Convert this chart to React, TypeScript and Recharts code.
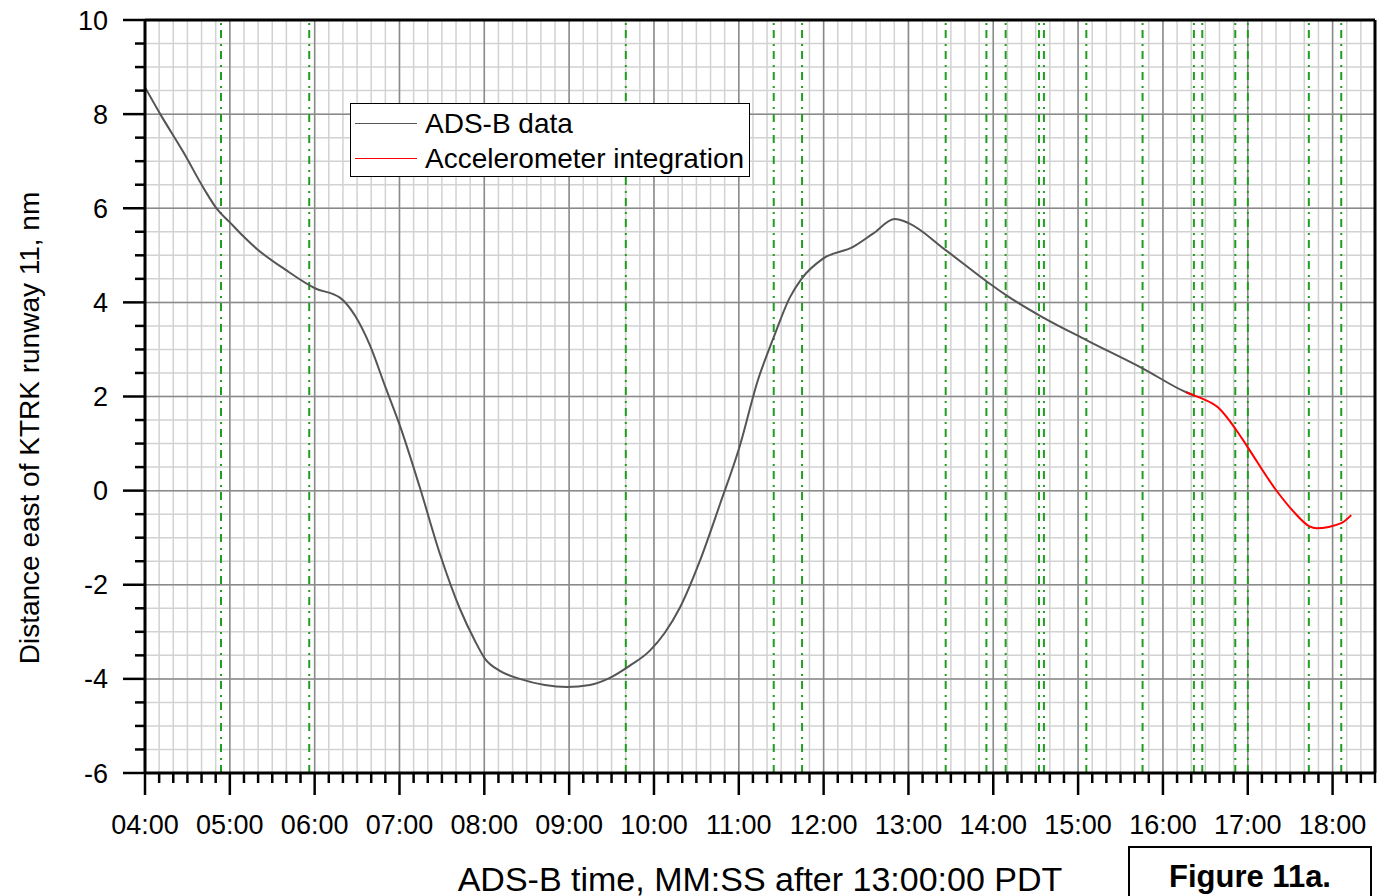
import React from "react"
import {
  ComposedChart,
  Line,
  XAxis,
  YAxis,
  CartesianGrid,
  ReferenceLine,
  Legend,
} from "recharts"

// time in minutes after 13:00:00, distance in nm
const adsbTime = [
  4.0, 4.18, 4.45, 4.7, 4.85, 5.0, 5.15, 5.316, 5.65, 6.003, 6.298, 6.475,
  6.651, 6.828, 7.005, 7.241, 7.476, 7.712, 7.889, 8.007, 8.183, 8.419, 8.714,
  8.973, 9.244, 9.48, 9.716, 9.952, 10.128, 10.305, 10.54, 10.776, 11.012,
  11.224, 11.412, 11.601, 11.739, 11.993, 12.347, 12.582, 12.838, 12.995,
  13.439, 13.919, 14.155, 14.547, 15.097, 15.76, 16.275, 16.373,
]
const adsbDist = [
  8.57, 8.0, 7.2, 6.4, 5.98, 5.7, 5.42, 5.14, 4.7, 4.3, 4.1, 3.72, 3.09, 2.23,
  1.38, 0.06, -1.34, -2.51, -3.19, -3.57, -3.83, -4.0, -4.13, -4.17, -4.13,
  -3.98, -3.72, -3.4, -3.02, -2.49, -1.5, -0.3, 0.95, 2.34, 3.26, 4.1, 4.5,
  4.93, 5.18, 5.46, 5.77, 5.69, 5.11, 4.45, 4.15, 3.72, 3.2, 2.6, 2.09, 2.02,
]

const accelTime = [
  16.275, 16.373, 16.471, 16.648, 16.856, 17.0, 17.355, 17.532, 17.728, 17.807,
  18.102, 18.22,
]
const accelDist = [
  2.09, 2.02, 1.95, 1.77, 1.31, 0.92, -0.04, -0.43, -0.76, -0.8, -0.69, -0.52,
]

// event markers (green dash-dot verticals)
const eventTimes = [
  4.896, 5.936, 9.668, 11.412, 11.746, 13.439, 13.919, 14.146, 14.539, 14.597,
  15.097, 15.76, 16.365, 16.464, 16.853, 17.001, 17.72, 18.102,
]

const minuteTicks = [5, 6, 7, 8, 9, 10, 11, 12, 13, 14, 15, 16, 17, 18]
const xTicks: number[] = []
for (let i = 24; i <= 111; i++) xTicks.push(i / 6)
const yTicks: number[] = []
for (let i = -12; i <= 20; i++) yTicks.push(i / 2)
const yMajor = [-4, -2, 0, 2, 4, 6, 8]

const adsbData = adsbTime.map((t, i) => ({ t, d: adsbDist[i] }))
const accelData = accelTime.map((t, i) => ({ t, d: accelDist[i] }))

const FONT = '"Liberation Sans", Arial, sans-serif'

const fmt = (v: number) => {
  const m = Math.round(v)
  return (m < 10 ? "0" : "") + m + ":00"
}

const XTick = (props: any) => {
  const { x, y, payload } = props
  const v = payload.value
  const major = Math.abs(v - Math.round(v)) < 1e-6
  return (
    <g>
      <line x1={x} x2={x} y1={y} y2={y + (major ? 22 : 10)} stroke="#000" strokeWidth={2.5} />
      {major && (
        <text x={x} y={y + 61} textAnchor="middle" fontSize={27} fontFamily={FONT} fill="#000">
          {fmt(v)}
        </text>
      )}
    </g>
  )
}

const YTick = (props: any) => {
  const { x, y, payload } = props
  const v = payload.value
  const major = Math.abs(v / 2 - Math.round(v / 2)) < 1e-6
  return (
    <g>
      <line x1={x - (major ? 22 : 10)} x2={x} y1={y} y2={y} stroke="#000" strokeWidth={2.5} />
      {major && (
        <text x={x - 37} y={y + 9.5} textAnchor="end" fontSize={27} fontFamily={FONT} fill="#000">
          {v}
        </text>
      )}
    </g>
  )
}

const LegendBox = (props: any) => {
  const items = props.payload || []
  return (
    <div
      style={{
        width: 400,
        height: 74,
        border: "1.5px solid #000",
        background: "#fff",
        boxSizing: "border-box",
        fontFamily: FONT,
        fontSize: 28,
        paddingTop: 2,
      }}
    >
      {items.map((it: any) => (
        <div key={it.value} style={{ display: "flex", alignItems: "center", height: 35 }}>
          <div style={{ width: 62, height: 0, borderTop: `1.5px solid ${it.color}`, marginLeft: 4, marginRight: 8 }} />
          <span>{it.value}</span>
        </div>
      ))}
    </div>
  )
}

export default function App() {
  return (
    <div style={{ position: "absolute", left: 0, top: 0, width: 1379, height: 896, background: "#fff" }}>
      <ComposedChart width={1379} height={896} margin={{ top: 20, right: 4, bottom: 0, left: 0 }}>
        <CartesianGrid stroke="#d2d2d2" strokeWidth={1.5} />
        <XAxis
          dataKey="t"
          type="number"
          domain={[4, 18.5]}
          allowDataOverflow
          ticks={xTicks}
          interval={0}
          tickSize={0}
          tickMargin={0}
          tick={<XTick />}
          axisLine={{ stroke: "#000", strokeWidth: 3 }}
          tickLine={false}
          height={123}
        />
        <YAxis
          type="number"
          domain={[-6, 10]}
          allowDataOverflow
          ticks={yTicks}
          interval={0}
          tickSize={0}
          tickMargin={0}
          tick={<YTick />}
          axisLine={{ stroke: "#000", strokeWidth: 3 }}
          tickLine={false}
          width={145}
        />
        {minuteTicks.map((m) => (
          <ReferenceLine key={"vx" + m} x={m} stroke="#8a8a8a" strokeWidth={1.5} />
        ))}
        {yMajor.map((v) => (
          <ReferenceLine key={"hy" + v} y={v} stroke="#8a8a8a" strokeWidth={1.5} />
        ))}
        {eventTimes.map((t) => (
          <ReferenceLine key={"ev" + t} x={t} stroke="#1f9e1f" strokeWidth={2} strokeDasharray="8 5 2 6" />
        ))}
        <ReferenceLine y={10} stroke="#000" strokeWidth={3} />
        <ReferenceLine x={18.5} stroke="#000" strokeWidth={3} />
        <Line
          data={adsbData}
          dataKey="d"
          name="ADS-B data"
          type="monotone"
          stroke="#555"
          strokeWidth={2}
          dot={false}
          isAnimationActive={false}
        />
        <Line
          data={accelData}
          dataKey="d"
          name="Accelerometer integration"
          type="monotone"
          stroke="#ff0000"
          strokeWidth={2}
          dot={false}
          isAnimationActive={false}
        />
        <Legend
          layout="vertical"
          align="center"
          verticalAlign="middle"
          content={<LegendBox />}
          wrapperStyle={{ position: "absolute", left: 350, top: 103, width: 400 }}
        />
      </ComposedChart>
      <div
        style={{
          position: "absolute",
          left: 30 - 300,
          top: 428 - 16,
          width: 600,
          height: 32,
          lineHeight: "32px",
          textAlign: "center",
          transform: "rotate(-90deg)",
          fontFamily: FONT,
          fontSize: 28,
          whiteSpace: "nowrap",
        }}
      >
        Distance east of KTRK runway 11, nm
      </div>
      <div
        style={{
          position: "absolute",
          left: 360,
          top: 860,
          width: 800,
          textAlign: "center",
          fontFamily: FONT,
          fontSize: 34,
          lineHeight: "38px",
          whiteSpace: "nowrap",
        }}
      >
        ADS-B time, MM:SS after 13:00:00 PDT
      </div>
      <div
        style={{
          position: "absolute",
          left: 1128,
          top: 846,
          width: 244,
          height: 60,
          border: "2px solid #000",
          boxSizing: "border-box",
          textAlign: "center",
          fontFamily: FONT,
          fontWeight: "bold",
          fontSize: 31,
          lineHeight: "34px",
          paddingTop: 12,
        }}
      >
        Figure 11a.
      </div>
    </div>
  )
}
